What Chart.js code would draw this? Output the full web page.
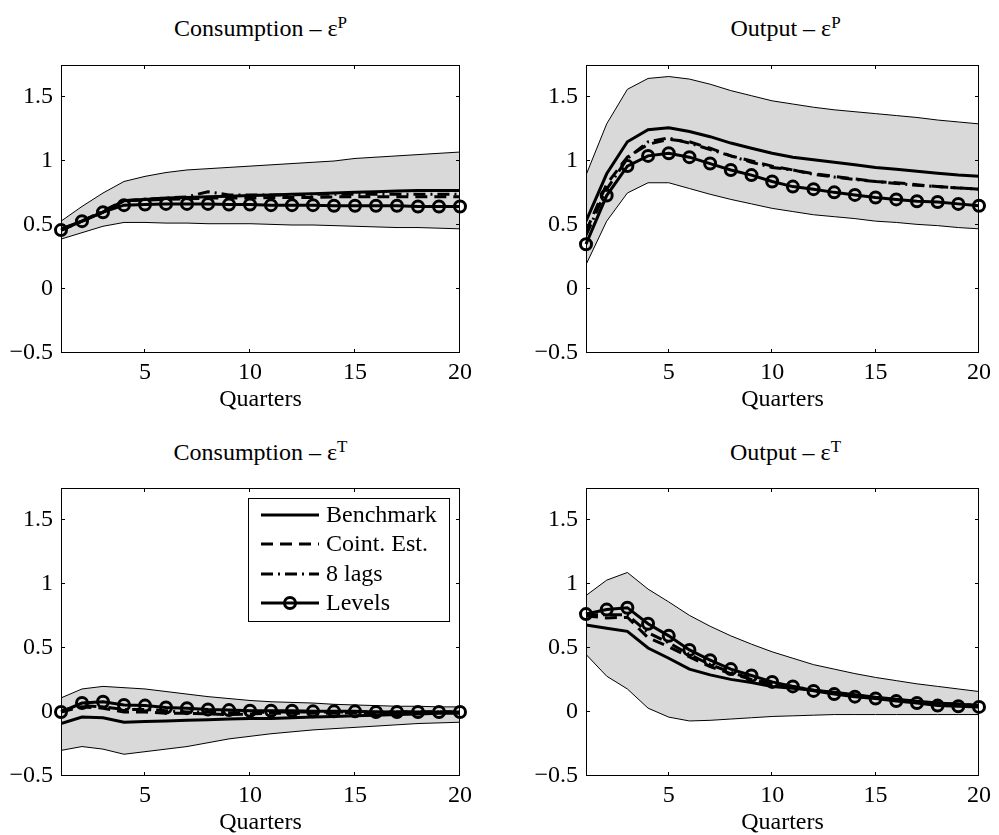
<!DOCTYPE html>
<html>
<head>
<meta charset="utf-8">
<title>Impulse responses</title>
<script src="https://cdn.jsdelivr.net/npm/chart.js@4.4.1/dist/chart.umd.min.js"></script>
<style>
  body { margin:0; background:#fff; width:999px; height:835px; overflow:hidden; position:relative;
         font-family:"Liberation Serif","Times New Roman",serif; }
  canvas { position:absolute; }
  .ttl { position:absolute; width:399px; text-align:center; font-size:24px; line-height:28px; color:#000; white-space:nowrap; }
  .ttl span { position:relative; top:-8px; font-size:17px; }
</style>
</head>
<body>
<div class="ttl" style="left:61px;top:14px">Consumption – ε<span>P</span></div>
<div class="ttl" style="left:586px;top:14px">Output – ε<span>P</span></div>
<div class="ttl" style="left:61px;top:438px">Consumption – ε<span>T</span></div>
<div class="ttl" style="left:586px;top:438px">Output – ε<span>T</span></div>

<canvas id="consP" width="495" height="367" style="left:0;top:45px"></canvas>
<canvas id="outP" width="474" height="367" style="left:525px;top:45px"></canvas>
<canvas id="consT" width="495" height="367" style="left:0;top:468px"></canvas>
<canvas id="outT" width="474" height="367" style="left:525px;top:468px"></canvas>

<script>
// axes
const quarters = [1,2,3,4,5,6,7,8,9,10,11,12,13,14,15,16,17,18,19,20];
const xTicks = [5, 10, 15, 20];
const yTicks = [-0.5, 0, 0.5, 1, 1.5];
const seriesNames = ['Benchmark', 'Coint. Est.', '8 lags', 'Levels'];

// Consumption - eps P
const cpBandHi = [0.53,0.645,0.75,0.84,0.88,0.91,0.93,0.94,0.95,0.96,0.97,0.98,0.99,1.00,1.02,1.03,1.04,1.05,1.06,1.07];
const cpBandLo = [0.39,0.44,0.49,0.52,0.52,0.515,0.515,0.51,0.51,0.51,0.505,0.50,0.50,0.495,0.49,0.485,0.48,0.48,0.475,0.47];
const cpBench  = [0.47,0.53,0.60,0.69,0.70,0.71,0.715,0.72,0.725,0.73,0.735,0.74,0.745,0.75,0.755,0.76,0.765,0.77,0.77,0.77];
const cpCoint  = [0.46,0.53,0.60,0.69,0.695,0.70,0.705,0.71,0.71,0.71,0.715,0.715,0.715,0.72,0.72,0.72,0.72,0.72,0.72,0.72];
const cpLags8  = [0.46,0.53,0.61,0.69,0.70,0.71,0.72,0.76,0.735,0.735,0.735,0.735,0.74,0.74,0.74,0.74,0.74,0.74,0.74,0.74];
const cpLevels = [0.46,0.53,0.60,0.655,0.66,0.665,0.665,0.665,0.66,0.66,0.655,0.655,0.655,0.65,0.65,0.65,0.65,0.645,0.645,0.645];

// Output - eps P
const ypBandHi = [0.89,1.29,1.56,1.645,1.66,1.64,1.60,1.55,1.51,1.47,1.445,1.42,1.40,1.385,1.37,1.355,1.34,1.32,1.305,1.29];
const ypBandLo = [0.19,0.53,0.75,0.83,0.83,0.785,0.74,0.70,0.665,0.63,0.605,0.58,0.565,0.55,0.53,0.52,0.505,0.495,0.48,0.47];
const ypBench  = [0.53,0.90,1.15,1.245,1.26,1.23,1.19,1.14,1.10,1.06,1.03,1.01,0.99,0.97,0.95,0.935,0.92,0.905,0.89,0.88];
const ypCoint  = [0.45,0.82,1.03,1.13,1.17,1.15,1.10,1.04,1.00,0.96,0.93,0.90,0.88,0.86,0.84,0.83,0.815,0.80,0.79,0.78];
const ypLags8  = [0.42,0.78,1.02,1.15,1.18,1.14,1.09,1.04,0.99,0.95,0.93,0.895,0.875,0.855,0.84,0.825,0.81,0.80,0.79,0.78];
const ypLevels = [0.35,0.73,0.96,1.04,1.06,1.03,0.98,0.93,0.89,0.84,0.80,0.78,0.755,0.735,0.715,0.70,0.685,0.68,0.665,0.65];

// Consumption - eps T
const ctBandHi = [0.11,0.18,0.20,0.19,0.18,0.16,0.14,0.12,0.105,0.09,0.08,0.075,0.07,0.06,0.055,0.05,0.045,0.045,0.04,0.04];
const ctBandLo = [-0.30,-0.27,-0.29,-0.33,-0.31,-0.29,-0.27,-0.24,-0.21,-0.19,-0.17,-0.155,-0.14,-0.13,-0.12,-0.11,-0.10,-0.09,-0.085,-0.08];
const ctBench  = [-0.09,-0.04,-0.045,-0.08,-0.075,-0.07,-0.065,-0.06,-0.055,-0.05,-0.05,-0.045,-0.04,-0.035,-0.03,-0.025,-0.02,-0.015,-0.01,-0.01];
const ctCoint  = [0.0,0.04,0.03,0.0,0.0,-0.01,-0.01,-0.015,-0.02,-0.015,-0.01,-0.01,-0.01,-0.01,-0.005,-0.005,0.0,0.0,0.0,0.0];
const ctLags8  = [0.01,0.05,0.04,0.02,0.02,0.01,0.0,0.0,-0.005,-0.005,0.0,0.0,0.0,0.0,0.0,0.0,0.0,0.0,0.0,0.0];
const ctLevels = [0.0,0.07,0.08,0.055,0.05,0.035,0.03,0.02,0.015,0.01,0.01,0.01,0.005,0.005,0.005,0.0,0.0,0.0,0.0,0.0];

// Output - eps T
const ytBandHi = [0.91,1.03,1.09,0.96,0.86,0.755,0.67,0.595,0.53,0.47,0.42,0.37,0.335,0.30,0.27,0.245,0.22,0.20,0.18,0.16];
const ytBandLo = [0.45,0.28,0.18,0.03,-0.04,-0.07,-0.065,-0.055,-0.045,-0.035,-0.03,-0.025,-0.02,-0.02,-0.02,-0.02,-0.02,-0.02,-0.02,-0.02];
const ytBench  = [0.68,0.655,0.63,0.50,0.42,0.335,0.29,0.255,0.23,0.20,0.185,0.17,0.155,0.135,0.115,0.10,0.085,0.07,0.06,0.05];
const ytCoint  = [0.75,0.735,0.74,0.58,0.51,0.43,0.355,0.30,0.255,0.215,0.195,0.17,0.15,0.13,0.11,0.095,0.08,0.07,0.06,0.05];
const ytLags8  = [0.76,0.76,0.76,0.62,0.54,0.45,0.37,0.31,0.26,0.22,0.20,0.17,0.15,0.13,0.11,0.095,0.08,0.07,0.06,0.05];
const ytLevels = [0.765,0.80,0.815,0.69,0.595,0.485,0.405,0.335,0.285,0.235,0.20,0.165,0.14,0.12,0.105,0.085,0.07,0.05,0.045,0.04];

const serif = '"Liberation Serif", "Times New Roman", serif';
const font = { family: serif, size: 24, lineHeight: 1 };

// line styles, same order as seriesNames
const seriesStyle = [
  { dash: [], marker: false },
  { dash: [12, 7], marker: false },
  { dash: [12, 5, 2, 5], marker: false },
  { dash: [], marker: true }
];

const pts = arr => quarters.map((q, i) => ({ x: q, y: arr[i] }));

// matlab style box with inward ticks on all sides
const framePlugin = {
  id: 'frame',
  afterDatasetsDraw(chart) {
    const { ctx, chartArea: a, scales: { x, y } } = chart;
    ctx.save();
    ctx.strokeStyle = '#000';
    ctx.lineWidth = 1;
    ctx.setLineDash([]);
    ctx.strokeRect(a.left + 0.5, a.top + 0.5, a.right - a.left - 1, a.bottom - a.top - 1);
    ctx.beginPath();
    xTicks.forEach(v => {
      const px = Math.round(x.getPixelForValue(v)) - 0.5;
      ctx.moveTo(px, a.bottom); ctx.lineTo(px, a.bottom - 4);
      ctx.moveTo(px, a.top); ctx.lineTo(px, a.top + 4);
    });
    yTicks.forEach(v => {
      const py = Math.round(y.getPixelForValue(v)) - 0.5;
      ctx.moveTo(a.left, py); ctx.lineTo(a.left + 4, py);
      ctx.moveTo(a.right, py); ctx.lineTo(a.right - 4, py);
    });
    ctx.stroke();
    ctx.restore();
  }
};

const legendPlugin = {
  id: 'irfLegend',
  afterDraw(chart) {
    const { ctx, chartArea: a } = chart;
    const w = 201, h = 123;
    const left = a.right - 11 - w, top = a.top + 10;
    ctx.save();
    ctx.fillStyle = '#fff';
    ctx.fillRect(left, top, w, h);
    ctx.strokeStyle = '#000';
    ctx.lineWidth = 1;
    ctx.strokeRect(left + 0.5, top + 0.5, w, h);
    ctx.font = '24px ' + serif;
    ctx.textBaseline = 'middle';
    ctx.fillStyle = '#000';
    seriesNames.forEach((name, i) => {
      const st = seriesStyle[i];
      const yy = Math.round(top + 17 + i * 29.3);
      ctx.beginPath();
      ctx.lineWidth = 3;
      ctx.setLineDash(st.dash);
      ctx.moveTo(left + 13, yy);
      ctx.lineTo(left + 71, yy);
      ctx.stroke();
      ctx.setLineDash([]);
      if (st.marker) {
        ctx.beginPath();
        ctx.lineWidth = 3;
        ctx.arc(left + 42, yy, 5.5, 0, 2 * Math.PI);
        ctx.stroke();
      }
      ctx.fillText(name, left + 78, yy + 1);
    });
    ctx.restore();
  }
};

function makePanel(id, rightPad, band, series, withLegend) {
  const datasets = [
    { data: pts(band[0]), borderColor: '#000', borderWidth: 1, backgroundColor: '#d9d9d9', fill: '+1', pointRadius: 0, order: 6 },
    { data: pts(band[1]), borderColor: '#000', borderWidth: 1, fill: false, pointRadius: 0, order: 5 }
  ];
  series.forEach((arr, i) => {
    const st = seriesStyle[i];
    datasets.push({
      label: seriesNames[i],
      data: pts(arr),
      borderColor: '#000',
      borderWidth: 3,
      borderDash: st.dash,
      fill: false,
      order: 4 - i,
      clip: st.marker ? false : undefined,
      pointRadius: st.marker ? 5.5 : 0,
      pointBorderWidth: 3,
      pointBorderColor: '#000',
      pointBackgroundColor: 'rgba(0,0,0,0)'
    });
  });

  new Chart(document.getElementById(id), {
    type: 'line',
    data: { datasets },
    options: {
      responsive: false,
      animation: false,
      events: [],
      elements: { line: { tension: 0 } },
      layout: { padding: { top: 12, right: rightPad, bottom: 0, left: 0 } },
      plugins: { legend: { display: false }, tooltip: { enabled: false } },
      scales: {
        x: {
          type: 'linear', min: 1, max: 20,
          afterBuildTicks: s => { s.ticks = xTicks.map(v => ({ value: v })); },
          afterFit: s => { s.height = 59; },
          grid: { display: false, drawTicks: false },
          border: { display: false },
          ticks: { padding: 8, color: '#000', font, autoSkip: false, maxRotation: 0 },
          title: { display: true, text: 'Quarters', color: '#000', font, padding: { top: 0, bottom: 0 } }
        },
        y: {
          type: 'linear', min: -0.5, max: 1.75,
          afterBuildTicks: s => { s.ticks = yTicks.map(v => ({ value: v })); },
          afterFit: s => { s.width = 61; },
          grid: { display: false, drawTicks: false },
          border: { display: false },
          ticks: {
            padding: 8, color: '#000', font, autoSkip: false,
            callback: v => v < 0 ? '\u2212' + Math.abs(v) : String(v)
          }
        }
      }
    },
    plugins: withLegend ? [framePlugin, legendPlugin] : [framePlugin]
  });
}

makePanel('consP', 35, [cpBandHi, cpBandLo], [cpBench, cpCoint, cpLags8, cpLevels], false);
makePanel('outP', 14, [ypBandHi, ypBandLo], [ypBench, ypCoint, ypLags8, ypLevels], false);
makePanel('consT', 35, [ctBandHi, ctBandLo], [ctBench, ctCoint, ctLags8, ctLevels], true);
makePanel('outT', 14, [ytBandHi, ytBandLo], [ytBench, ytCoint, ytLags8, ytLevels], false);
</script>
</body>
</html>
